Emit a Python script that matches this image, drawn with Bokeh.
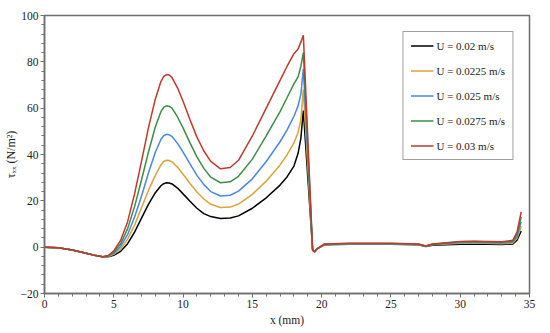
from bokeh.plotting import figure
from bokeh.models import Legend, LegendItem, FixedTicker, Range1d
from bokeh.embed import file_html
from bokeh.resources import INLINE

# ---- data ----
x_mm = [0, 1, 2, 3, 3.6, 4.2, 4.6, 5, 5.5, 6, 6.5, 7, 7.5, 8, 8.4, 8.6, 8.8, 9.0, 9.2, 9.6, 10, 10.5,
        11, 11.5, 12, 12.7, 13.4, 14, 15, 16, 17, 17.5, 18, 18.3, 18.5, 18.68, 19.35, 19.5,
        19.7, 20.2, 22, 25, 27, 27.5, 28, 30, 31, 33, 33.8, 34.1, 34.4]

u_020 = [0, -0.3, -1.2, -2.6, -3.5, -4.1, -4.1, -3.5, -1.8, 1.5, 6.5, 12.5, 18.5, 23.5, 26.5, 27.4, 27.8, 27.7, 27.3, 25.5, 23, 19.8,
         16.8, 14.5, 13.2, 12.4, 12.6, 13.5, 16.8, 21.3, 26.8, 30.3, 35, 40.5, 47, 59, -1.3, -2.0,
         -0.6, 1.0, 1.3, 1.3, 1.0, 0.3, 0.8, 1.3, 1.4, 1.2, 1.4, 3.0, 7.0]
u_0225 = [0, -0.3, -1.2, -2.6, -3.5, -4.1, -4.0, -3.1, -0.8, 3.5, 9.5, 17, 24.5, 31, 35.5, 37.0, 37.5, 37.4, 36.8, 34.5, 31.5, 27.5,
          23.8, 20.8, 18.5, 17.1, 17.3, 18.6, 22.8, 28.5, 35.5, 39.8, 45, 49.5, 55, 68, -1.3, -2.0,
          -0.6, 1.1, 1.5, 1.4, 1.1, 0.4, 1.0, 1.7, 1.8, 1.5, 1.8, 3.8, 9.0]
u_025 = [0, -0.3, -1.2, -2.6, -3.5, -4.1, -3.9, -2.7, 0.3, 5.5, 13, 22, 32, 41, 46.5, 48.1, 48.7, 48.5, 47.8, 44.8, 41, 36,
         31, 27, 24, 22.1, 22.4, 24.2, 29.5, 37, 45.5, 50.5, 56.5, 61, 66, 77, -1.3, -2.0,
         -0.6, 1.2, 1.5, 1.5, 1.2, 0.4, 1.1, 2.0, 2.1, 1.8, 2.2, 4.5, 11.0]
u_0275 = [0, -0.3, -1.2, -2.6, -3.5, -4.1, -3.8, -2.2, 1.5, 8, 17.5, 29, 41, 52, 58.5, 60.3, 61, 60.8, 60, 56.2, 51.5, 45,
          39, 34, 30.2, 27.8, 28.2, 30.6, 38, 48, 58.5, 64.5, 70.5, 73.5, 78, 84, -1.3, -2.0,
          -0.6, 1.3, 1.6, 1.6, 1.3, 0.5, 1.3, 2.3, 2.4, 2.1, 2.6, 5.5, 13.0]
u_030 = [0, -0.3, -1.2, -2.6, -3.5, -4.1, -3.6, -1.6, 3, 11, 23, 37, 51.5, 64, 71.5, 73.6, 74.5, 74.3, 73.2, 68.8, 63, 55,
         47.5, 41.5, 37, 33.8, 34.4, 37.5, 48, 60, 72, 78, 83.5, 85.5, 88.5, 91.5, -1.3, -2.0,
         -0.6, 1.4, 1.7, 1.7, 1.4, 0.5, 1.4, 2.5, 2.6, 2.3, 3.0, 6.5, 15.2]

series_labels = ["U = 0.02 m/s", "U = 0.0225 m/s", "U = 0.025 m/s", "U = 0.0275 m/s", "U = 0.03 m/s"]
series_values = [u_020, u_0225, u_025, u_0275, u_030]
series_colors = ["#000000", "#D9A43A", "#4A86E8", "#3C8D47", "#C0392B"]

x_ticks = [0, 5, 10, 15, 20, 25, 30, 35]
y_ticks = [-20, 0, 20, 40, 60, 80, 100]

FONT = "Liberation Serif"
AXC = "#6e6e6e"
TXT = "#222222"

p = figure(width=545, height=330, x_range=Range1d(0, 35), y_range=Range1d(-20, 100),
           output_backend="svg", toolbar_location=None,
           min_border_left=44, min_border_right=16, min_border_top=15, min_border_bottom=37)
p.background_fill_color = "white"
p.border_fill_color = "white"
p.outline_line_color = AXC
p.outline_line_width = 1.5
p.xgrid.visible = False
p.ygrid.visible = False

items = []
for lab, vals, col in zip(series_labels, series_values, series_colors):
    r = p.line(x_mm, vals, line_color=col, line_width=1.5)
    items.append(LegendItem(label=lab, renderers=[r]))

p.xaxis.ticker = FixedTicker(ticks=x_ticks, minor_ticks=list(range(0, 36)))
p.yaxis.ticker = FixedTicker(ticks=y_ticks, minor_ticks=list(range(-20, 101, 4)))
p.yaxis.major_label_overrides = {-20: "\u221220"}

for ax in (p.xaxis, p.yaxis):
    ax.axis_line_color = AXC
    ax.axis_line_width = 1.5
    ax.major_tick_line_color = AXC
    ax.minor_tick_line_color = AXC
    ax.major_tick_in = 0
    ax.major_tick_out = 4
    ax.minor_tick_in = 0
    ax.minor_tick_out = 3
    ax.major_label_text_font = FONT
    ax.major_label_text_font_size = "11.5px"
    ax.major_label_text_color = TXT
    ax.major_label_standoff = 2
    ax.axis_label_text_font = FONT
    ax.axis_label_text_font_size = "11.5px"
    ax.axis_label_text_font_style = "normal"
    ax.axis_label_text_color = TXT

p.xaxis.axis_label = "x (mm)"
p.xaxis.axis_label_standoff = 3
p.yaxis.axis_label = "\u03c4\u2093\u2093 (N/m\u00b2)"
p.yaxis.axis_label_text_font_size = "12px"
p.yaxis.axis_label_standoff = 0

legend = Legend(items=items, location="top_right")
legend.margin = 16
legend.padding = 7
legend.spacing = 12
legend.glyph_height = 13
legend.label_height = 13
legend.glyph_width = 23
legend.label_standoff = 3
legend.label_text_font = FONT
legend.label_text_font_size = "11px"
legend.label_text_color = TXT
legend.border_line_color = "#444444"
legend.border_line_width = 1
legend.background_fill_alpha = 1
p.add_layout(legend)

open("out.html", "w").write(file_html(p, INLINE))
